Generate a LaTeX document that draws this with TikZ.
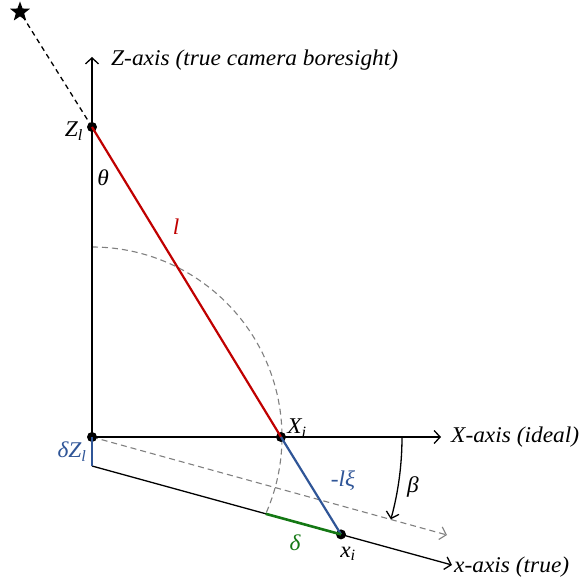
\documentclass[tikz,border=0pt]{standalone}
\usepackage{fontspec}
\setmainfont{Liberation Serif}[FakeStretch=1.04]
\usetikzlibrary{arrows.meta,shapes.geometric}
\definecolor{myred}{RGB}{192,0,0}
\definecolor{myblue}{RGB}{47,85,151}
\definecolor{mygreen}{RGB}{20,120,20}
\definecolor{guidegray}{RGB}{128,128,128}
\begin{document}
\begin{tikzpicture}[x=1pt,y=1pt,
 axisarrow/.style={line width=1.3pt,-{Straight Barb[length=6pt,width=13pt,line width=1.3pt]}},
 lbl/.style={font=\fontsize{22.5}{26}\selectfont\itshape, inner sep=0pt},
 dot/.style={circle,fill=black,inner sep=0pt,minimum size=10pt},
 guide/.style={guidegray, line width=1.1pt, dash pattern=on 6pt off 4pt}]
\useasboundingbox (0,0) rectangle (581,581);
% points
\coordinate (O) at (92,144);
\coordinate (Ztip) at (92,524);
\coordinate (Xtip) at (441,144);
\coordinate (dZ) at (92,115);
\coordinate (xtip) at (452,16);
\coordinate (g1) at (265.7,67.2);
\coordinate (gtip) at (447,46);
\coordinate (bstart) at (402,144);
\node[star,star points=5,star point ratio=2.4,fill=black,inner sep=0pt,minimum size=21pt] (star) at (20,569) {};
% guides
\draw[guide] (92,334) arc[start angle=90,end angle=-24,radius=190];
\draw[guide,-{Straight Barb[length=6pt,width=13pt,line width=1.1pt]}] (O) -- (gtip);
% axes
\draw[axisarrow] (O) -- (Ztip);
\draw[axisarrow] (O) -- (Xtip);
\draw[axisarrow] (dZ) -- (xtip);
\node[dot] (O') at (O) {};
\node[dot] (Zl) at (92,454) {};
\node[dot] (Xi) at (281,144) {};
\node[dot] (xi) at (341,46.6) {};
\draw[line width=2.6pt] (O) -- (Xi);
\draw[line width=1.3pt, dash pattern=on 5pt off 4pt] (Zl.center) -- (star.center);
\draw[myred,line width=2.2pt] (Zl.center) -- (Xi.center);
\draw[myblue,line width=2.2pt] (Xi.center) -- (xi.center);
\draw[myblue,line width=1.6pt] (O) -- (dZ);
\draw[mygreen,line width=2.6pt] (g1) -- (xi.center);
\draw[line width=1.3pt,-{Straight Barb[length=6pt,width=13pt,line width=1.3pt]}] (bstart) arc[start angle=0,end angle=-15.4,radius=310];
% labels
\node[lbl,anchor=west] (zlab) at (111,521) {Z-axis (true camera boresight)};
\node[lbl] (zl) at (74,450) {Z\textsubscript{\itshape l}};
\node[lbl] (th) at (103,403) {θ};
\node[lbl,text=myred] (ll) at (176,354) {l};
\node[lbl] (Xil) at (297,153) {X\textsubscript{\itshape i}};
\node[lbl,anchor=west] (xlab) at (451,144) {X-axis (ideal)};
\node[lbl,text=myblue] (dzl) at (72,129) {δZ\textsubscript{\itshape l}};
\node[lbl,text=myblue] (lxi) at (343,100) {-lξ};
\node[lbl] (beta) at (413,94) {β};
\node[lbl,text=mygreen] (del) at (295,38) {δ};
\node[lbl] (xil) at (348,27) {x\textsubscript{\itshape i}};
\node[lbl,anchor=west] (xtl) at (454,14) {x-axis (true)};
\end{tikzpicture}
\end{document}
